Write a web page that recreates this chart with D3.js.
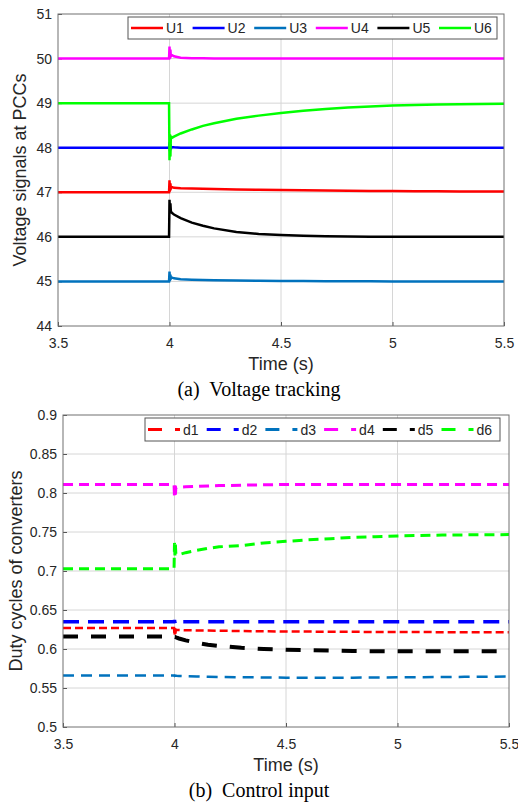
<!DOCTYPE html>
<html><head><meta charset="utf-8">
<script src="https://d3js.org/d3.v7.min.js"></script>
<style>body{margin:0;background:#fff} svg{display:block}</style>
</head><body>
<svg id="fig" width="518" height="807"></svg>
<script>
// ---- Panel (a): PCC voltage tracking ----
const timeA = [3.5, 3.75, 3.998, 4.0, 4.002, 4.004, 4.006, 4.01, 4.02, 4.05, 4.1, 4.15, 4.2, 4.3, 4.4, 4.5, 4.6, 4.7, 4.8, 4.9, 5.0, 5.1, 5.2, 5.3, 5.4, 5.5];
const U1 = [47, 47, 47, 47.27, 47.05, 47.2, 47.08, 47.12, 47.1, 47.09, 47.085, 47.08, 47.075, 47.065, 47.055, 47.05, 47.045, 47.04, 47.035, 47.03, 47.027, 47.024, 47.021, 47.019, 47.017, 47.015];
const U2 = [48, 48, 48, 48.12, 47.92, 48.08, 47.97, 48.03, 48.01, 48.0, 48, 48, 48, 48, 48, 48, 48, 48, 48, 48, 48, 48, 48, 48, 48, 48];
const U3 = [45, 45, 45, 45.22, 45.05, 45.15, 45.06, 45.09, 45.07, 45.05, 45.04, 45.03, 45.025, 45.02, 45.015, 45.01, 45.008, 45.005, 45.003, 45.002, 45, 45, 45, 45, 45, 45];
const U4 = [50, 50, 50, 50.27, 50.0, 50.2, 50.05, 50.08, 50.05, 50.02, 50.01, 50.005, 50, 50, 50, 50, 50, 50, 50, 50, 50, 50, 50, 50, 50, 50];
const U5 = [46, 46, 46, 46.83, 46.55, 46.75, 46.58, 46.54, 46.5, 46.42, 46.32, 46.25, 46.19, 46.11, 46.066, 46.04, 46.024, 46.014, 46.008, 46.005, 46.003, 46.002, 46.001, 46, 46, 46];
const U6 = [49, 49, 49, 47.72, 48.3, 47.8, 48.26, 48.22, 48.25, 48.32, 48.41, 48.49, 48.55, 48.65, 48.72, 48.78, 48.83, 48.87, 48.9, 48.925, 48.945, 48.958, 48.968, 48.976, 48.982, 48.987];
const namesA = ["U1", "U2", "U3", "U4", "U5", "U6"];
const yTicksA = [44, 45, 46, 47, 48, 49, 50, 51];

// ---- Panel (b): converter duty cycles ----
const timeB = [3.5, 3.75, 3.998, 4.0, 4.002, 4.004, 4.006, 4.01, 4.02, 4.05, 4.1, 4.15, 4.2, 4.3, 4.4, 4.5, 4.6, 4.7, 4.8, 4.9, 5.0, 5.1, 5.2, 5.3, 5.4, 5.5];
const duty1 = [0.627, 0.627, 0.627, 0.617, 0.626, 0.619, 0.625, 0.6245, 0.6243, 0.624, 0.6238, 0.6236, 0.6234, 0.623, 0.6227, 0.6225, 0.6223, 0.6222, 0.622, 0.6219, 0.6218, 0.6217, 0.6216, 0.6215, 0.6215, 0.6215];
const duty2 = [0.635, 0.635, 0.635, 0.637, 0.634, 0.636, 0.635, 0.635, 0.635, 0.635, 0.635, 0.635, 0.635, 0.635, 0.635, 0.635, 0.635, 0.635, 0.635, 0.635, 0.635, 0.635, 0.635, 0.635, 0.635, 0.635];
const duty3 = [0.566, 0.566, 0.566, 0.5655, 0.566, 0.5658, 0.5657, 0.5656, 0.5655, 0.5652, 0.5648, 0.5645, 0.5642, 0.5638, 0.5635, 0.5633, 0.5632, 0.5632, 0.5633, 0.5635, 0.5637, 0.5639, 0.5641, 0.5643, 0.5645, 0.5646];
const duty4 = [0.811, 0.811, 0.811, 0.794, 0.81, 0.798, 0.806, 0.807, 0.8075, 0.808, 0.8085, 0.809, 0.8095, 0.81, 0.8105, 0.811, 0.811, 0.811, 0.811, 0.811, 0.811, 0.811, 0.811, 0.811, 0.811, 0.811];
const duty5 = [0.616, 0.616, 0.616, 0.6155, 0.6155, 0.6153, 0.615, 0.6145, 0.6135, 0.611, 0.608, 0.6055, 0.604, 0.6015, 0.6, 0.599, 0.5985, 0.598, 0.5975, 0.5972, 0.597, 0.597, 0.597, 0.597, 0.597, 0.597];
const duty6 = [0.703, 0.703, 0.703, 0.736, 0.72, 0.734, 0.722, 0.7205, 0.721, 0.7235, 0.7265, 0.729, 0.731, 0.7325, 0.736, 0.738, 0.74, 0.7415, 0.743, 0.744, 0.745, 0.7455, 0.746, 0.7463, 0.7465, 0.7467];
const namesB = ["d1", "d2", "d3", "d4", "d5", "d6"];
const yTicksB = [0.5, 0.55, 0.6, 0.65, 0.7, 0.75, 0.8, 0.85, 0.9];
const yTickLabelsB = ["0.5", "0.55", "0.6", "0.65", "0.7", "0.75", "0.8", "0.85", "0.9"];

const xTicks = [3.5, 4, 4.5, 5, 5.5];
const xTickLabels = ["3.5", "4", "4.5", "5", "5.5"];

const seriesColors = ["#ff0000", "#0000ff", "#0072bd", "#ff00ff", "#000000", "#00ff00"];

const SANS = "'Liberation Sans', Arial, Helvetica, sans-serif";
const SERIF = "'Liberation Serif', 'Times New Roman', serif";
const INK = "#262626";

const svg = d3.select("#fig");

function drawPanel(cfg) {
  const g = svg.append("g");
  const x = d3.scaleLinear().domain([3.5, 5.5]).range([cfg.left, cfg.right]);
  const y = d3.scaleLinear().domain(cfg.yDomain).range([cfg.bottom, cfg.top]);

  // grid
  g.append("g").selectAll("line").data(xTicks.slice(1, -1)).join("line")
    .attr("x1", d => x(d)).attr("x2", d => x(d))
    .attr("y1", cfg.top).attr("y2", cfg.bottom)
    .attr("stroke", "#d6d6d6").attr("stroke-width", 1);
  g.append("g").selectAll("line").data(cfg.yTicks.slice(1, -1)).join("line")
    .attr("x1", cfg.left).attr("x2", cfg.right)
    .attr("y1", d => y(d)).attr("y2", d => y(d))
    .attr("stroke", "#d6d6d6").attr("stroke-width", 1);

  // axes
  const xAxis = d3.axisBottom(x).tickValues(xTicks)
    .tickFormat((d, i) => xTickLabels[i]).tickSizeInner(-4).tickSizeOuter(0).tickPadding(12);
  const yAxis = d3.axisLeft(y).tickValues(cfg.yTicks)
    .tickFormat((d, i) => cfg.yTickLabels[i]).tickSizeInner(-4).tickSizeOuter(0).tickPadding(6);
  const gx = g.append("g").attr("transform", `translate(0,${cfg.bottom})`).call(xAxis);
  const gy = g.append("g").attr("transform", `translate(${cfg.left},0)`).call(yAxis);
  [gx, gy].forEach(a => {
    a.select(".domain").remove();
    a.selectAll(".tick line").attr("stroke", "#555");
    a.selectAll(".tick text").attr("fill", INK).style("font-family", SANS).style("font-size", "14px");
  });

  // data lines
  const clipId = "clip-" + cfg.id;
  svg.append("clipPath").attr("id", clipId).append("rect")
    .attr("x", cfg.left).attr("y", cfg.top)
    .attr("width", cfg.right - cfg.left).attr("height", cfg.bottom - cfg.top);
  const line = d3.line().x(d => x(d[0])).y(d => y(d[1]));
  const lines = g.append("g").attr("clip-path", `url(#${clipId})`);
  cfg.series.forEach((vals, i) => {
    const pts = cfg.time.map((t, k) => [t, vals[k]]);
    lines.append("path").datum(pts)
      .attr("d", line)
      .attr("fill", "none")
      .attr("stroke", seriesColors[i])
      .attr("stroke-width", cfg.widths[i])
      .attr("stroke-linejoin", "miter")
      .attr("stroke-dasharray", cfg.dashes ? cfg.dashes[i] : null);
  });

  // frame
  g.append("rect").attr("x", cfg.left).attr("y", cfg.top)
    .attr("width", cfg.right - cfg.left).attr("height", cfg.bottom - cfg.top)
    .attr("fill", "none").attr("stroke", "#707070").attr("stroke-width", 1);

  // legend
  const L = cfg.legend;
  const lg = g.append("g");
  lg.append("rect").attr("x", L.x0).attr("y", L.y0)
    .attr("width", L.x1 - L.x0).attr("height", L.y1 - L.y0)
    .attr("fill", "#fff").attr("stroke", "#555").attr("stroke-width", 1);
  const ly = (L.y0 + L.y1) / 2;
  cfg.names.forEach((nm, i) => {
    const sx = L.start + i * L.step;
    lg.append("line").attr("x1", sx).attr("x2", sx + 32)
      .attr("y1", ly).attr("y2", ly)
      .attr("stroke", seriesColors[i]).attr("stroke-width", cfg.legendWidth)
      .attr("stroke-dasharray", cfg.dashes ? "14,13" : null);
    lg.append("text").attr("x", sx + 35).attr("y", ly + 5)
      .attr("fill", INK).style("font-family", SANS).style("font-size", "14px")
      .text(nm);
  });

  // axis titles
  g.append("text").attr("transform", `translate(${cfg.yLabelX},${(cfg.top + cfg.bottom) / 2}) rotate(-90)`)
    .attr("text-anchor", "middle").attr("fill", INK)
    .style("font-family", SANS).style("font-size", "18px").text(cfg.yLabel);
  g.append("text").attr("x", (cfg.left + cfg.right) / 2).attr("y", cfg.bottom + 44)
    .attr("text-anchor", "middle").attr("fill", INK)
    .style("font-family", SANS).style("font-size", "18px").text("Time (s)");

  // caption
  g.append("text").attr("x", 259).attr("y", cfg.bottom + 70)
    .attr("text-anchor", "middle").attr("fill", "#000")
    .style("font-family", SERIF).style("font-size", "20px")
    .style("white-space", "pre")
    .text(cfg.caption);
}

drawPanel({
  id: "a", left: 58, right: 504, top: 14, bottom: 326,
  yDomain: [44, 51], yTicks: yTicksA, yTickLabels: yTicksA.map(String),
  time: timeA, series: [U1, U2, U3, U4, U5, U6], names: namesA,
  widths: [2.5, 2.5, 2.5, 2.5, 2.5, 2.5], legendWidth: 2.5,
  legend: { x0: 128, x1: 497, y0: 17, y1: 39, start: 131, step: 61.6 },
  yLabel: "Voltage signals at PCCs", yLabelX: 26,
  caption: "(a)  Voltage tracking"
});

drawPanel({
  id: "b", left: 63, right: 509, top: 415, bottom: 727,
  yDomain: [0.5, 0.9], yTicks: yTicksB, yTickLabels: yTickLabelsB,
  time: timeB, series: [duty1, duty2, duty3, duty4, duty5, duty6], names: namesB,
  widths: [2.5, 3.5, 2.5, 3, 4, 3], legendWidth: 3,
  dashes: ["8,4", "16,9", "11,7", "10,6", "15,13", "10,6"],
  legend: { x0: 145, x1: 500, y0: 418, y1: 441, start: 148, step: 58.7 },
  yLabel: "Duty cycles of converters", yLabelX: 22,
  caption: "(b)  Control input"
});
</script>
</body></html>
